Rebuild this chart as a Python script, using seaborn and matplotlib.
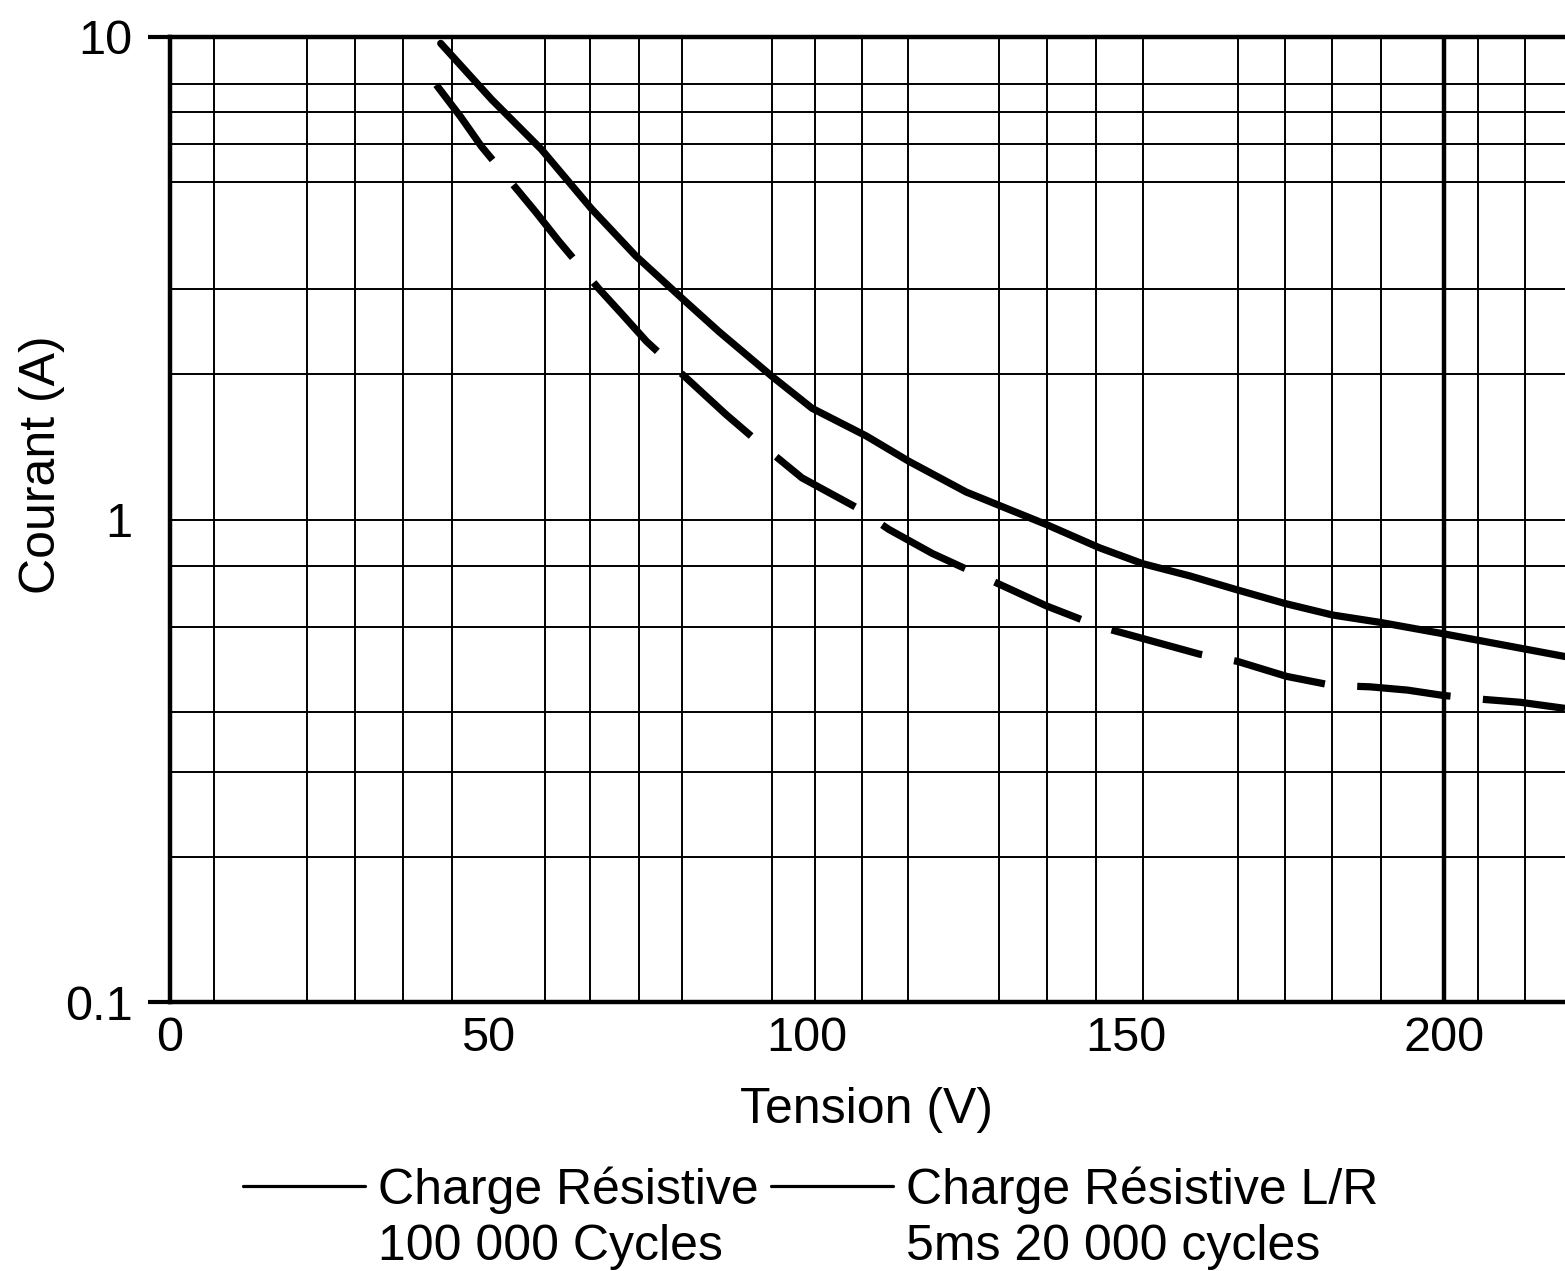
import matplotlib
matplotlib.use("Agg")
import matplotlib.pyplot as plt
from matplotlib.lines import Line2D
from matplotlib.ticker import FixedLocator, NullFormatter
import seaborn as sns
import pandas as pd

# Courbes (Tension en V, Courant en A)
solid_v = [42.5, 50.5, 58.3, 66.2, 73.1, 80.3, 86.2, 94.5, 100.8, 109.3,
           116.0, 125.0, 137.6, 145.9, 152.7, 160.1, 167.5, 175.0, 182.5,
           190.0, 199.8, 219.0]
solid_a = [9.7, 7.42, 5.85, 4.40, 3.52, 2.88, 2.45, 1.98, 1.70, 1.49,
           1.32, 1.14, 0.976, 0.874, 0.81, 0.764, 0.715, 0.67, 0.634,
           0.612, 0.58, 0.52]

dash_v = [41.8, 45.6, 48.9, 57.4, 61.0, 67.3, 70.9, 74.8, 87.3, 92.0, 99.2,
          107.7, 112.9, 119.7, 132.1, 137.6, 145.9, 161.6, 167.6, 175.3,
          182.5, 188.4, 194.3, 199.8, 206.0, 212.0, 219.0]
dash_a = [7.96, 6.84, 5.93, 4.34, 3.78, 3.01, 2.67, 2.34, 1.65, 1.46, 1.22,
          1.06, 0.953, 0.85, 0.715, 0.662, 0.60, 0.526, 0.508, 0.473,
          0.453, 0.45, 0.443, 0.432, 0.424, 0.418, 0.406]

labels = ["Charge Résistive", "100 000 Cycles",
          "Charge Résistive L/R", "5ms 20 000 cycles"]

x_ticks = [0, 50, 100, 150, 200]
y_ticks = [0.1, 1, 10]
y_ticklabels = ["0.1", "1", "10"]

# grille du papier (irreguliere sur l'original)
grid_x = [6.9, 21.5, 29.1, 36.6, 44.2, 58.8, 66.0, 73.6, 80.3, 94.5, 101.3,
          108.6, 115.9, 130.2, 137.7, 145.3, 152.8, 167.6, 175.0, 182.5,
          190.1, 205.3, 212.7]
grid_y = [0.2, 0.3, 0.4, 0.6, 0.8, 2, 3, 5, 6, 7, 8]

sns.set_theme(style="white")
plt.rcParams["font.family"] = ["Liberation Sans", "DejaVu Sans"]

W, H = 1565, 1271
fig = plt.figure(figsize=(W / 100, H / 100), dpi=100)
ax = fig.add_axes([170 / W, 1 - 1002 / H, (W - 170) / W, (1002 - 37) / H])

df1 = pd.DataFrame({"Tension": solid_v, "Courant": solid_a})
df2 = pd.DataFrame({"Tension": dash_v, "Courant": dash_a})
sns.lineplot(data=df1, x="Tension", y="Courant", ax=ax, color="black",
             lw=5.2, estimator=None, sort=False, zorder=5)
sns.lineplot(data=df2, x="Tension", y="Courant", ax=ax, color="black",
             lw=5.2, estimator=None, sort=False, linestyle=(0, (13, 4.5)),
             zorder=5)

ax.set_yscale("log")
ax.set_xlim(0, 219)
ax.set_ylim(0.1, 10)

ax.set_xticks(x_ticks)
ax.set_xticklabels([str(t) for t in x_ticks])
ax.set_yticks(y_ticks)
ax.set_yticklabels(y_ticklabels)
ax.xaxis.set_minor_locator(FixedLocator(grid_x))
ax.yaxis.set_minor_locator(FixedLocator(grid_y))
ax.xaxis.set_minor_formatter(NullFormatter())
ax.yaxis.set_minor_formatter(NullFormatter())

ax.tick_params(axis="x", which="major", length=0, pad=10, labelsize=35,
               colors="black")
ax.tick_params(axis="y", which="major", length=16, width=3, pad=11,
               labelsize=35, colors="black", left=True)
ax.tick_params(which="minor", length=0)
ax.yaxis.get_major_ticks()[1].tick1line.set_visible(False)

ax.grid(False)
ax.grid(which="minor", color="black", lw=1.4)
ax.grid(which="major", axis="y", color="black", lw=1.4)
ax.axvline(x_ticks[-1], color="black", lw=3.2)

for side in ["left", "top", "bottom"]:
    ax.spines[side].set_color("black")
    ax.spines[side].set_linewidth(3.2)
ax.spines["right"].set_visible(False)

ax.set_xlabel("Tension (V)", fontsize=36, color="black", va="top")
ax.set_ylabel("Courant (A)", fontsize=36, color="black")
ax.xaxis.set_label_coords(0.499, -0.088)
ax.yaxis.set_label_coords(-0.075, 0.557)

h_line = Line2D([], [], color="black", lw=2.3)
h_blank = Line2D([], [], color="none")
fig.legend([h_line, h_blank, h_line, h_blank], labels, ncol=2,
           loc="upper left", bbox_to_anchor=(243 / W, 1 - 1166 / H),
           frameon=False, fontsize=36, borderpad=0, borderaxespad=0,
           handlelength=2.44, handletextpad=0.26, columnspacing=0.24,
           labelspacing=0.2, labelcolor="black")

fig.savefig("out.png", dpi=100)
